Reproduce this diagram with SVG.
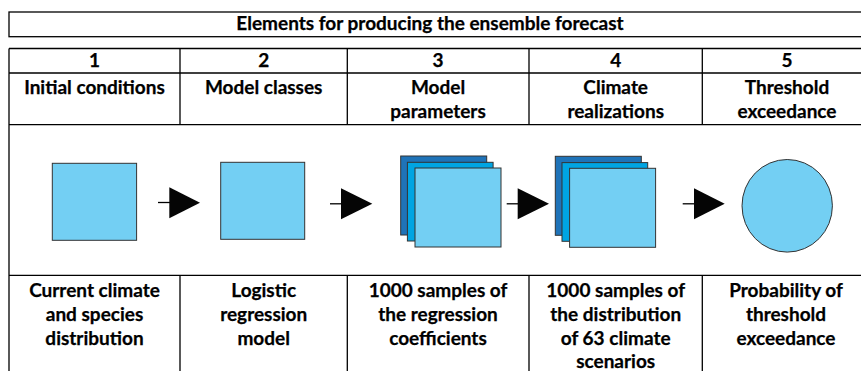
<svg xmlns="http://www.w3.org/2000/svg" width="861" height="371" viewBox="0 0 861 371">
  <style>
    .grid { fill: none; stroke: #000; stroke-width: 1.3; }
    .t { font-family: Lato, "Open Sans", "Liberation Sans", sans-serif; font-weight: bold; font-size: 19px; fill: #000; text-anchor: middle; stroke: #000; stroke-width: 0.25; }
    .light { fill: #73CFF3; stroke: #333; stroke-width: 1; }
    .mid { fill: #00A5E3; stroke: #333; stroke-width: 1; }
    .dark { fill: #1F73B8; stroke: #333; stroke-width: 1; }
    .conn { stroke: #000; stroke-width: 1.3; }
  </style>
  <defs>
    <g id="stack">
      <rect class="dark" x="0" y="0" width="86" height="79"/>
      <rect class="mid" x="6.7" y="6.3" width="85.7" height="78.7"/>
      <rect class="light" x="14.3" y="12" width="86" height="79"/>
    </g>
  </defs>
  <rect width="861" height="371" fill="#fff"/>

  <!-- table frame -->
  <g id="table">
    <rect class="grid" x="9" y="12" width="870" height="24.7"/>
    <path class="grid" d="M9 48.5 H870 M9 48.5 V371 M9 73 H870 M9 124.7 H870 M9 275.3 H870"/>
    <path class="grid" d="M180 48.5 V124.7 M347.3 48.5 V124.7 M529 48.5 V124.7 M702.3 48.5 V124.7"/>
    <path class="grid" d="M180 275.3 V371 M347.3 275.3 V371 M529 275.3 V371 M702.3 275.3 V371"/>
  </g>

  <text class="t" x="430" y="29.5">Elements for producing the ensemble forecast</text>

  <!-- step 1 -->
  <g id="step1">
    <text class="t" x="94.5" y="67">1</text>
    <text class="t" x="94.5" y="94">Initial conditions</text>
    <rect class="light" x="52.3" y="163.3" width="84.3" height="77"/>
    <text class="t" x="94.5" y="297">Current climate</text>
    <text class="t" x="94.5" y="321">and species</text>
    <text class="t" x="94.5" y="345">distribution</text>
  </g>

  <!-- step 2 -->
  <g id="step2">
    <text class="t" x="263.7" y="67">2</text>
    <text class="t" x="263.7" y="94">Model classes</text>
    <rect class="light" x="220.7" y="162.3" width="84" height="77"/>
    <text class="t" x="263.7" y="297">Logistic</text>
    <text class="t" x="263.7" y="321">regression</text>
    <text class="t" x="263.7" y="345">model</text>
  </g>

  <!-- step 3 -->
  <g id="step3">
    <text class="t" x="438" y="67">3</text>
    <text class="t" x="438" y="94">Model</text>
    <text class="t" x="438" y="118">parameters</text>
    <use href="#stack" x="400.7" y="156"/>
    <text class="t" x="438" y="297">1000 samples of</text>
    <text class="t" x="438" y="321">the regression</text>
    <text class="t" x="438" y="345">coefficients</text>
  </g>

  <!-- step 4 -->
  <g id="step4">
    <text class="t" x="615.7" y="67">4</text>
    <text class="t" x="615.7" y="94">Climate</text>
    <text class="t" x="615.7" y="118">realizations</text>
    <use href="#stack" x="555.3" y="156.3"/>
    <text class="t" x="615.7" y="297">1000 samples of</text>
    <text class="t" x="615.7" y="321">the distribution</text>
    <text class="t" x="615.7" y="345">of 63 climate</text>
    <text class="t" x="615.7" y="367.5">scenarios</text>
  </g>

  <!-- step 5 -->
  <g id="step5">
    <text class="t" x="787" y="67">5</text>
    <text class="t" x="787" y="94">Threshold</text>
    <text class="t" x="787" y="118">exceedance</text>
    <ellipse class="light" cx="787.2" cy="205.8" rx="45.2" ry="46.3"/>
    <text class="t" x="786" y="297">Probability of</text>
    <text class="t" x="786" y="321">threshold</text>
    <text class="t" x="786" y="345">exceedance</text>
  </g>

  <!-- connectors -->
  <g id="connectors">
    <line class="conn" x1="158" y1="202.5" x2="170" y2="202.5"/>
    <polygon points="169.3,187.3 200,202.8 169.3,218.3" fill="#050505"/>
    <line class="conn" x1="330" y1="203.8" x2="342" y2="203.8"/>
    <polygon points="341,188.3 372.3,203.8 341,219.3" fill="#050505"/>
    <line class="conn" x1="506.7" y1="203.8" x2="518.5" y2="203.8"/>
    <polygon points="517.7,188.3 549,203.8 517.7,219.3" fill="#050505"/>
    <line class="conn" x1="682.7" y1="203.8" x2="694.8" y2="203.8"/>
    <polygon points="694,188.3 724.7,203.8 694,219.3" fill="#050505"/>
  </g>
</svg>
